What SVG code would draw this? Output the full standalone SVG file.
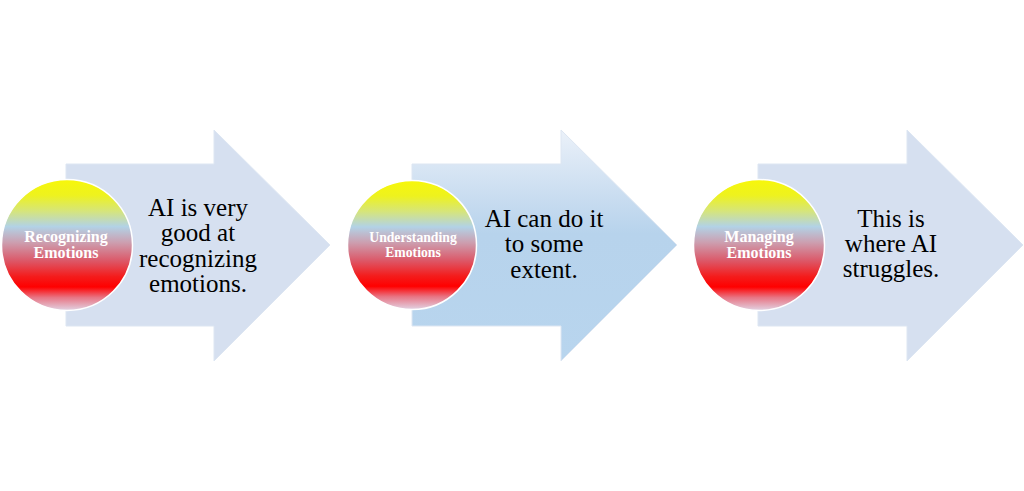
<svg xmlns="http://www.w3.org/2000/svg" width="1024" height="491" viewBox="0 0 1024 491">
<style>
.arrow{stroke:#dde6f2;stroke-width:1}
.a-plain{fill:#d6e0f0}
.a-grad{fill:url(#blueGrad)}
.ball{fill:url(#ballGrad);stroke:#ffffff;stroke-width:1.5}
.lbl{font-family:'Liberation Serif','DejaVu Serif',serif;font-weight:bold;fill:#ffffff;text-anchor:middle}
.txt{font-family:'Liberation Serif','DejaVu Serif',serif;font-size:25px;fill:#000000;text-anchor:middle}
</style>
<defs>
<linearGradient id="blueGrad" x1="0" y1="0" x2="0" y2="1">
<stop offset="0" stop-color="#ebf1f9"/>
<stop offset="0.3" stop-color="#c8dcf0"/>
<stop offset="0.45" stop-color="#b7d3ec"/>
<stop offset="1" stop-color="#b8d5ee"/>
</linearGradient>
<linearGradient id="ballGrad" x1="0" y1="0" x2="0" y2="1">
<stop offset="0" stop-color="#f7f70a"/>
<stop offset="0.12" stop-color="#eef21e"/>
<stop offset="0.24" stop-color="#d6e57a"/>
<stop offset="0.36" stop-color="#b2d2e6"/>
<stop offset="0.48" stop-color="#cc9fb0"/>
<stop offset="0.62" stop-color="#dc5868"/>
<stop offset="0.74" stop-color="#f41c1c"/>
<stop offset="0.82" stop-color="#ff0000"/>
<stop offset="0.9" stop-color="#e87483"/>
<stop offset="1" stop-color="#e2d4e4"/>
</linearGradient>
</defs>
<rect width="1024" height="491" fill="#ffffff"/>
<g id="connectors"></g>
<g id="node1">
<path class="arrow a-plain" d="M66,164 H214 V130 L330,245 L214,361 V326 H66 Z"/>
<circle class="ball" cx="67" cy="245" r="65.5"/>
<text class="lbl" font-size="16" x="66" y="242">Recognizing</text>
<text class="lbl" font-size="16" x="66" y="257.5">Emotions</text>
<text class="txt" x="198" y="215.5">AI is very</text>
<text class="txt" x="198" y="241">good at</text>
<text class="txt" x="198" y="266.5">recognizing</text>
<text class="txt" x="198" y="292">emotions.</text>
</g>
<g id="node2">
<path class="arrow a-grad" d="M412,164 H561 V130 L677,245 L561,361 V326 H412 Z"/>
<circle class="ball" cx="412" cy="245" r="64.5"/>
<text class="lbl" font-size="13.7" x="413" y="242">Understanding</text>
<text class="lbl" font-size="13.7" x="413" y="257">Emotions</text>
<text class="txt" x="544" y="226.5">AI can do it</text>
<text class="txt" x="544" y="252">to some</text>
<text class="txt" x="544" y="277.5">extent.</text>
</g>
<g id="node3">
<path class="arrow a-plain" d="M758,164 H907 V130 L1023,245 L907,361 V326 H758 Z"/>
<circle class="ball" cx="759" cy="245" r="65.5"/>
<text class="lbl" font-size="16" x="759" y="242">Managing</text>
<text class="lbl" font-size="16" x="759" y="257.5">Emotions</text>
<text class="txt" x="891" y="226.5">This is</text>
<text class="txt" x="891" y="252">where AI</text>
<text class="txt" x="891" y="277">struggles.</text>
</g>
</svg>
